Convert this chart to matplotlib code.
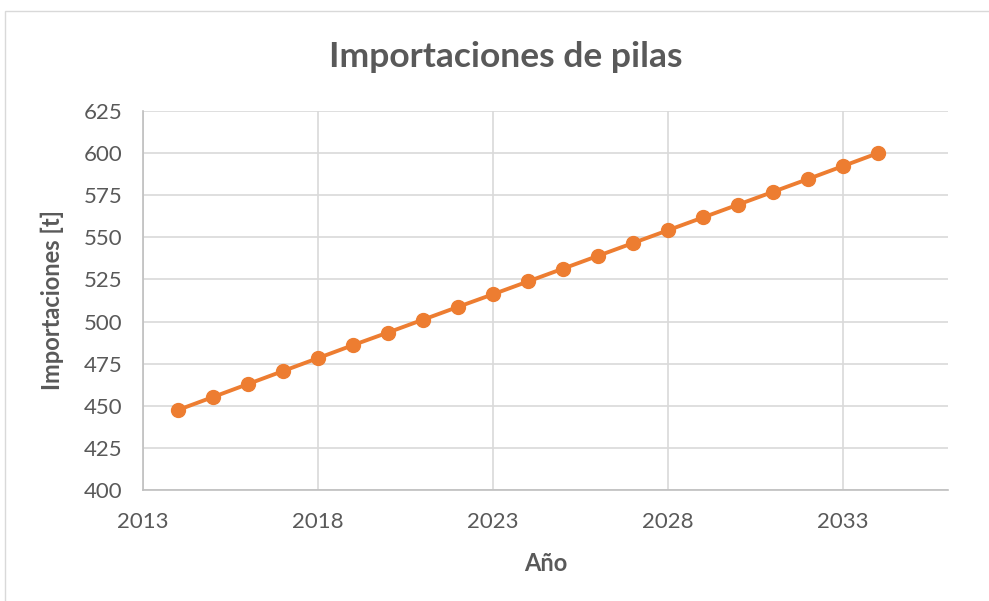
import matplotlib.pyplot as plt
from matplotlib.patches import Rectangle

years = [2014, 2015, 2016, 2017, 2018, 2019, 2020, 2021, 2022, 2023, 2024,
         2025, 2026, 2027, 2028, 2029, 2030, 2031, 2032, 2033, 2034]
imports = [447.5, 455.2, 462.9, 470.6, 478.3, 486.0, 493.5, 501.1, 508.7, 516.2, 523.8,
           531.4, 539.0, 546.6, 554.2, 561.8, 569.4, 577.0, 584.6, 592.3, 600.0]
x_ticks = [2013, 2018, 2023, 2028, 2033]
y_ticks = [400, 425, 450, 475, 500, 525, 550, 575, 600, 625]

plt.rcParams['font.family'] = ['Lato', 'DejaVu Sans']
text_color = '#595959'
orange = '#ED7D31'

fig = plt.figure(figsize=(9.89, 6.01), dpi=100)
ax = fig.add_axes([143/989, 111/601, (948-143)/989, (490-111)/601])

# outer chart border
fig.patches.append(Rectangle((5/989, -0.01), 1.0, (601-11)/601 + 0.01,
                             transform=fig.transFigure, fill=False,
                             edgecolor='#d9d9d9', linewidth=1))

ax.plot(years, imports, color=orange, linewidth=2.8, marker='o',
        markersize=10, zorder=3)

ax.set_xlim(2013, 2036)
ax.set_ylim(400, 625)
ax.set_xticks(x_ticks)
ax.set_yticks(y_ticks)
ax.grid(True, color='#d9d9d9', linewidth=1.2)
ax.set_axisbelow(True)

for side in ['top', 'right']:
    ax.spines[side].set_visible(False)
for side in ['left', 'bottom']:
    ax.spines[side].set_color('#bfbfbf')
    ax.spines[side].set_linewidth(1.2)

ax.tick_params(length=0, labelsize=16, colors=text_color)
ax.tick_params(axis='y', pad=15)
ax.tick_params(axis='x', pad=16)

fig.text(506/989, 1 - 57/601, 'Importaciones de pilas', fontsize=25.5,
         fontweight='bold', color=text_color, ha='center', va='center')
ax.set_xlabel('Año', fontsize=17, fontweight='bold', color=text_color, labelpad=14)
ax.set_ylabel('Importaciones [t]', fontsize=17, fontweight='bold', color=text_color, labelpad=14)

fig.savefig('out.png', dpi=100)
